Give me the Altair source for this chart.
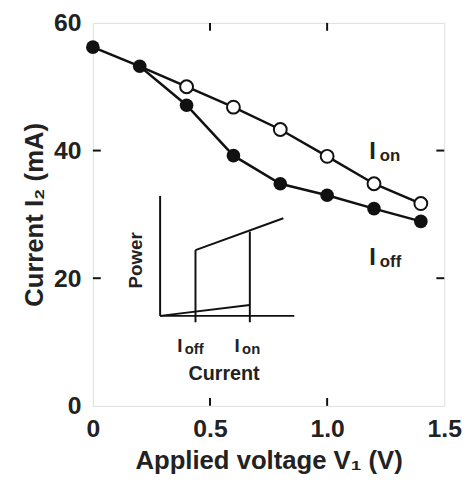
import altair as alt
import pandas as pd

# Main data
v_off = [0, 0.2, 0.4, 0.6, 0.8, 1.0, 1.2, 1.4]
i_off = [56.2, 53.2, 47.1, 39.2, 34.8, 33.0, 30.9, 28.9]
v_on = [0.2, 0.4, 0.6, 0.8, 1.0, 1.2, 1.4]
i_on = [53.2, 50.0, 46.8, 43.3, 39.1, 34.8, 31.7]

x_ticks = [0.5, 1.0]
y_ticks = [20, 40]

# Inset schematic (in main-axis data units)
seg_x1 = [0.287, 0.287, 0.287, 0.67, 0.438, 0.438]
seg_y1 = [32.9, 14.1, 14.1, 13.1, 24.4, 13.1]
seg_x2 = [0.287, 0.86, 0.67, 0.67, 0.813, 0.438]
seg_y2 = [14.1, 14.1, 15.8, 27.3, 29.4, 24.4]

# Labels: main letter + subscript
lab_x = [1.18, 1.18, 0.36, 0.605]
lab_y = [38.6, 22.0, 8.5, 8.5]
lab_main = ["I", "I", "I", "I"]
lab_sub = ["on", "off", "off", "on"]
lab_size = [24, 24, 19, 19]
lab_subsize = [17, 17, 15, 15]
lab_subdx = [0.045, 0.045, 0.032, 0.032]

FONT = "Liberation Sans"
W, H = 356, 388

off_df = pd.DataFrame({"v": v_off, "i": i_off})
on_df = pd.DataFrame({"v": v_on, "i": i_on})
seg_df = pd.DataFrame({"x": seg_x1, "y": seg_y1, "x2": seg_x2, "y2": seg_y2})
lab_df = pd.DataFrame({"x": lab_x, "y": lab_y, "t": lab_main, "s": lab_sub,
                       "size": lab_size, "subsize": lab_subsize,
                       "xs": [a + b for a, b in zip(lab_x, lab_subdx)]})

xs = alt.Scale(domain=[0, 1.5], nice=False, zero=False)
ys = alt.Scale(domain=[0, 60], nice=False, zero=False)

xaxis = alt.Axis(values=[0, 0.5, 1.0, 1.5], ticks=False, domain=False, grid=False,
                 labelExpr="datum.value == 0 ? '0' : format(datum.value, '.1f')",
                 labelFont=FONT, labelFontWeight="bold", labelFontSize=25, labelColor="#222",
                 labelPadding=11, title="Applied voltage  V\u2081 (V)", titleFont=FONT,
                 titleFontWeight="bold", titleFontSize=26, titleColor="#222", titlePadding=6,
                 labelFlush=False)
yaxis = alt.Axis(values=[0, 20, 40, 60], ticks=False, domain=False, grid=False,
                 labelFont=FONT, labelFontWeight="bold", labelFontSize=25, labelColor="#222",
                 labelPadding=12, title="Current  I\u2082 (mA)", titleFont=FONT,
                 titleFontWeight="bold", titleFontSize=26, titleColor="#222", titlePadding=6)

base_off = alt.Chart(off_df).encode(x=alt.X("v:Q", scale=xs, axis=xaxis),
                                    y=alt.Y("i:Q", scale=ys, axis=yaxis))
line_off = base_off.mark_line(color="#111", strokeWidth=2.5, clip=False)
pts_off = base_off.mark_point(filled=True, color="#111", size=190, opacity=1, clip=False)

base_on = alt.Chart(on_df).encode(x=alt.X("v:Q", scale=xs), y=alt.Y("i:Q", scale=ys))
line_on = base_on.mark_line(color="#111", strokeWidth=2.5, clip=False)
pts_on = alt.Chart(on_df[on_df["v"] > 0.3]).mark_point(
    filled=True, fill="white", stroke="#111", strokeWidth=2, size=170, opacity=1, clip=False
).encode(x=alt.X("v:Q", scale=xs), y=alt.Y("i:Q", scale=ys))

# Inward ticks
xt_df = pd.DataFrame({"x": x_ticks})
xt_bottom = alt.Chart(xt_df).mark_rule(color="#111", strokeWidth=2).encode(
    x=alt.X("x:Q", scale=xs), y=alt.value(H), y2=alt.value(H - 8))
xt_top = alt.Chart(xt_df).mark_rule(color="#111", strokeWidth=2).encode(
    x=alt.X("x:Q", scale=xs), y=alt.value(0), y2=alt.value(8))
yt_df = pd.DataFrame({"y": y_ticks})
yt_left = alt.Chart(yt_df).mark_rule(color="#111", strokeWidth=2).encode(
    y=alt.Y("y:Q", scale=ys), x=alt.value(0), x2=alt.value(8))
yt_right = alt.Chart(yt_df).mark_rule(color="#111", strokeWidth=2).encode(
    y=alt.Y("y:Q", scale=ys), x=alt.value(W), x2=alt.value(W - 8))

# Inset
inset = alt.Chart(seg_df).mark_rule(color="#111", strokeWidth=2).encode(
    x=alt.X("x:Q", scale=xs), y=alt.Y("y:Q", scale=ys),
    x2="x2:Q", y2="y2:Q")

big = alt.Chart(lab_df).mark_text(font=FONT, fontWeight="bold", color="#222",
                                  align="left", baseline="alphabetic").encode(
    x=alt.X("x:Q", scale=xs), y=alt.Y("y:Q", scale=ys), text="t:N",
    size=alt.Size("size:Q", scale=None, legend=None))
small = alt.Chart(lab_df).mark_text(font=FONT, fontWeight="bold", color="#222",
                                    align="left", baseline="alphabetic", dy=2).encode(
    x=alt.X("xs:Q", scale=xs), y=alt.Y("y:Q", scale=ys), text="s:N",
    size=alt.Size("subsize:Q", scale=None, legend=None))

other_df = pd.DataFrame({"x": [0.56, 0.185], "y": [4.0, 22.8],
                         "t": ["Current", "Power"]})
cur_txt = alt.Chart(other_df.iloc[[0]]).mark_text(
    font=FONT, fontWeight="bold", fontSize=20, color="#222", baseline="alphabetic"
).encode(x=alt.X("x:Q", scale=xs), y=alt.Y("y:Q", scale=ys), text="t:N")
pow_txt = alt.Chart(other_df.iloc[[1]]).mark_text(
    font=FONT, fontWeight="bold", fontSize=19, color="#222", angle=270, baseline="middle"
).encode(x=alt.X("x:Q", scale=xs), y=alt.Y("y:Q", scale=ys), text="t:N")

chart = alt.layer(
    line_off, line_on, pts_off, pts_on,
    xt_bottom, xt_top, yt_left, yt_right,
    inset, big, small, cur_txt, pow_txt
).properties(
    width=W, height=H,
    autosize=alt.AutoSizeParams(type="none"),
    padding={"left": 86, "top": 12, "right": 20, "bottom": 72},
).configure_view(stroke="#111", strokeWidth=2.5).configure(background="white")

chart.save("out.html", embed_options={"renderer": "svg", "actions": False})
